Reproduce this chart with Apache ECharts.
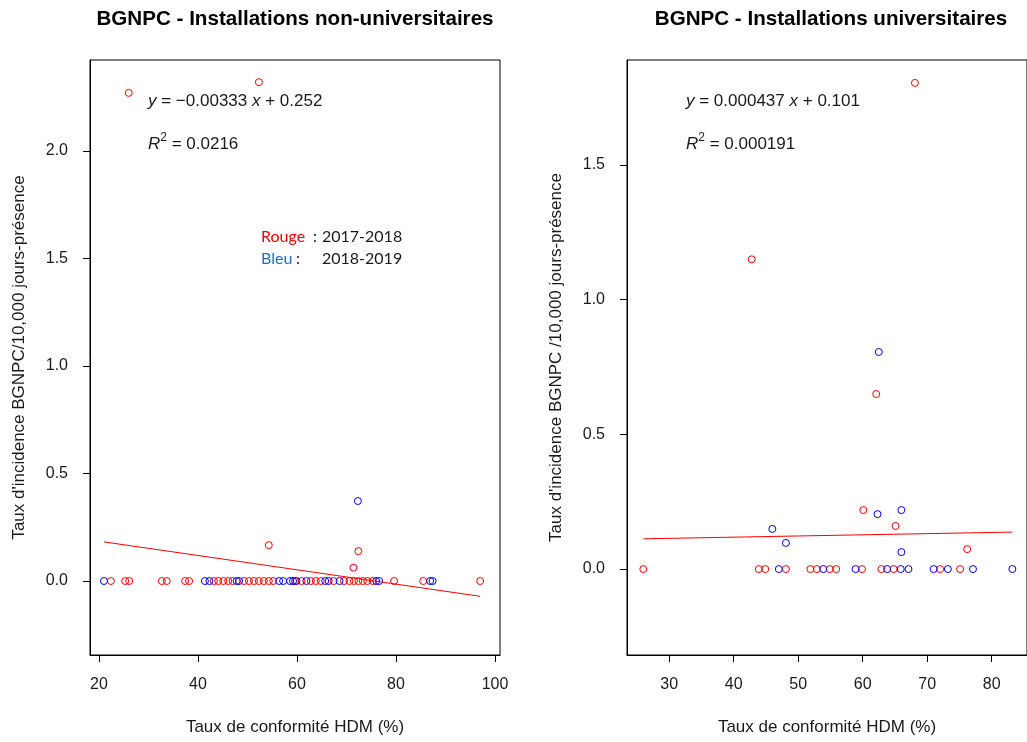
<!DOCTYPE html>
<html>
<head>
<meta charset="utf-8">
<script src="https://cdn.jsdelivr.net/npm/echarts@6/dist/echarts.min.js"></script>
<style>
html,body{margin:0;padding:0;background:#fff;}
#c{width:1027px;height:742px;}
</style>
</head>
<body>
<div id="c"></div>
<script>
// ---------- DATA ----------
// Left panel: non-university facilities (x = HDM compliance %, y = incidence /10,000 patient-days)
var leftRedX = [26.0, 52.3, 54.3, 72.4, 71.4,
  22.4, 25.3, 26.1, 32.7, 33.7, 37.4, 38.2, 43.2, 44.1, 45.1, 46.1, 47.0, 49.3, 50.3, 51.3,
  52.3, 53.3, 54.3, 55.2, 59.6, 60.9, 62.8, 63.8, 64.8, 67.4, 69.5, 70.6, 71.5, 72.4, 73.3,
  74.2, 75.3, 79.6, 85.5, 97.0];
var leftRedY = [2.27, 2.32, 0.167, 0.139, 0.062,
  0, 0, 0, 0, 0, 0, 0, 0, 0, 0, 0, 0, 0, 0, 0,
  0, 0, 0, 0, 0, 0, 0, 0, 0, 0, 0, 0, 0, 0, 0,
  0, 0, 0, 0, 0];
var leftBlueX = [72.3,
  21.0, 41.4, 42.3, 47.8, 48.3, 56.4, 57.2, 58.6, 59.2, 59.9, 61.9, 65.7, 66.4, 68.6, 76.0,
  76.6, 86.9, 87.4];
var leftBlueY = [0.372,
  0, 0, 0, 0, 0, 0, 0, 0, 0, 0, 0, 0, 0, 0, 0,
  0, 0, 0];
var leftFit = [-0.00333, 0.252];   // slope, intercept

// Right panel: university facilities
var rightRedX = [42.8, 68.1, 62.1, 60.1, 65.1, 76.2,
  26.0, 43.9, 44.9, 48.1, 51.9, 52.9, 54.9, 55.9, 59.9, 62.9, 64.8, 72.0, 75.1];
var rightRedY = [1.15, 1.805, 0.65, 0.219, 0.16, 0.074,
  0, 0, 0, 0, 0, 0, 0, 0, 0, 0, 0, 0, 0];
var rightBlueX = [62.5, 62.3, 66.0, 66.0, 46.0, 48.1,
  47.0, 53.9, 58.9, 63.8, 65.9, 67.1, 71.0, 73.2, 77.1, 83.2];
var rightBlueY = [0.806, 0.204, 0.219, 0.063, 0.149, 0.097,
  0, 0, 0, 0, 0, 0, 0, 0, 0, 0];
var rightFit = [0.000437, 0.101];

// Tick labels
var leftXTicks = [20, 40, 60, 80, 100];
var leftYTicks = [0, 0.5, 1.0, 1.5, 2.0];
var rightXTicks = [30, 40, 50, 60, 70, 80];
var rightYTicks = [0, 0.5, 1.0, 1.5];

// Texts
var titles = ['BGNPC - Installations non-universitaires', 'BGNPC - Installations universitaires'];
var xName = 'Taux de conformité HDM (%)';
var yNames = ["Taux d'incidence BGNPC/10,000 jours-présence", "Taux d'incidence BGNPC /10,000 jours-présence"];
var leftEq = ['{i|y} = −0.00333 {i|x} + 0.252', '{i|R}{sup|2}{n| = 0.0216}'];
var rightEq = ['{i|y} = 0.000437 {i|x} + 0.101', '{i|R}{sup|2}{n| = 0.000191}'];
var legendLabels = ['Rouge', 'Bleu', '2017-2018', '2018-2019'];

// ---------- BUILD ----------
function pairs(xs, ys) { return xs.map(function (x, i) { return [x, ys[i]]; }); }
function fitLine(fit, xs) {
  var lo = Math.min.apply(null, xs), hi = Math.max.apply(null, xs);
  return [[lo, fit[0] * lo + fit[1]], [hi, fit[0] * hi + fit[1]]];
}
var RED = '#ff0000', BLUE = '#0000ff';
var FONT = 'Liberation Sans, Arial, sans-serif';

function xAxis(idx, min, max, ticks) {
  return {
    type: 'value', gridIndex: idx, min: min, max: max,
    name: xName, nameLocation: 'middle', nameGap: 64,
    nameTextStyle: { fontFamily: FONT, fontSize: 17, color: '#1a1a1a' },
    splitLine: { show: false },
    axisLine: { show: true, onZero: false, lineStyle: { color: '#000', width: 1 } },
    axisTick: { show: true, inside: false, length: 7, customValues: ticks, lineStyle: { color: '#000', width: 1 } },
    axisLabel: { customValues: ticks, margin: 22, fontFamily: FONT, fontSize: 16, color: '#1a1a1a' }
  };
}
function yAxis(idx, min, max, ticks, name, gap) {
  return {
    type: 'value', gridIndex: idx, min: min, max: max,
    name: name, nameLocation: 'middle', nameGap: gap,
    nameTextStyle: { fontFamily: FONT, fontSize: 17, color: '#1a1a1a' },
    splitLine: { show: false },
    axisLine: { show: true, onZero: false, lineStyle: { color: '#000', width: 1 } },
    axisTick: { show: true, inside: false, length: 7, customValues: ticks, lineStyle: { color: '#000', width: 1 } },
    axisLabel: { customValues: ticks, margin: 22, fontFamily: FONT, fontSize: 16, color: '#1a1a1a',
      formatter: function (v) { return v.toFixed(1); } }
  };
}
function scatter(idx, data, color) {
  return { type: 'scatter', xAxisIndex: idx, yAxisIndex: idx, data: data,
    symbol: 'circle', symbolSize: 7, silent: true,
    itemStyle: { color: 'rgba(255,255,255,0)', borderColor: color, borderWidth: 1, opacity: 1 } };
}
function line(idx, data) {
  return { type: 'line', xAxisIndex: idx, yAxisIndex: idx, data: data, showSymbol: false,
    lineStyle: { color: RED, width: 1 }, silent: true, animation: false };
}
var richEq = {
  i: { fontStyle: 'italic', fontFamily: FONT, fontSize: 17, fill: '#1a1a1a', lineHeight: 24 },
  n: { fontFamily: FONT, fontSize: 17, fill: '#1a1a1a', lineHeight: 24 },
  sup: { fontFamily: FONT, fontSize: 12, fill: '#1a1a1a', verticalAlign: 'top', lineHeight: 24 }
};
function eqText(x, y, t) {
  return { type: 'text', x: x, y: y, style: { text: t, rich: richEq, font: '17px ' + FONT,
    fill: '#1a1a1a', verticalAlign: 'middle', align: 'left' } };
}
function txt(x, y, t, color, font, align) {
  return { type: 'text', x: x, y: y, style: { text: t, fill: color, font: font,
    verticalAlign: 'middle', align: align || 'left' } };
}
var LF = '16px Lato, sans-serif';

var option = {
  animation: false,
  backgroundColor: '#fff',
  grid: [
    { left: 90, top: 60, width: 410, height: 595, show: true, borderColor: '#000', borderWidth: 1, backgroundColor: 'transparent' },
    { left: 627, top: 60, width: 408, height: 595, show: true, borderColor: '#000', borderWidth: 1, backgroundColor: 'transparent' }
  ],
  xAxis: [ xAxis(0, 18.18, 101.01, leftXTicks), xAxis(1, 23.47, 85.47, rightXTicks) ],
  yAxis: [ yAxis(0, -0.344, 2.423, leftYTicks, yNames[0], 62), yAxis(1, -0.319, 1.890, rightYTicks, yNames[1], 62) ],
  series: [
    line(0, fitLine(leftFit, leftRedX.concat(leftBlueX))),
    scatter(0, pairs(leftRedX, leftRedY), RED),
    scatter(0, pairs(leftBlueX, leftBlueY), BLUE),
    line(1, fitLine(rightFit, rightRedX.concat(rightBlueX))),
    scatter(1, pairs(rightRedX, rightRedY), RED),
    scatter(1, pairs(rightBlueX, rightBlueY), BLUE)
  ],
  graphic: { elements: [
    txt(295, 19, titles[0], '#000', 'bold 20.6px ' + FONT, 'center'),
    txt(831, 19, titles[1], '#000', 'bold 20.6px ' + FONT, 'center'),
    eqText(148, 101, leftEq[0]),
    eqText(148, 144, leftEq[1]),
    eqText(686, 101, rightEq[0]),
    eqText(686, 144, rightEq[1]),
    txt(261, 237, legendLabels[0], '#ff0000', LF),
    txt(313, 237, ':', '#1a1a1a', LF),
    txt(322, 237, legendLabels[2], '#1a1a1a', LF),
    txt(261, 259, legendLabels[1], '#1f6fc5', LF),
    txt(296, 259, ':', '#1a1a1a', LF),
    txt(322, 259, legendLabels[3], '#1a1a1a', LF)
  ] }
};
var chart = echarts.init(document.getElementById('c'), null, { renderer: 'canvas' });
chart.setOption(option);
</script>
</body>
</html>
